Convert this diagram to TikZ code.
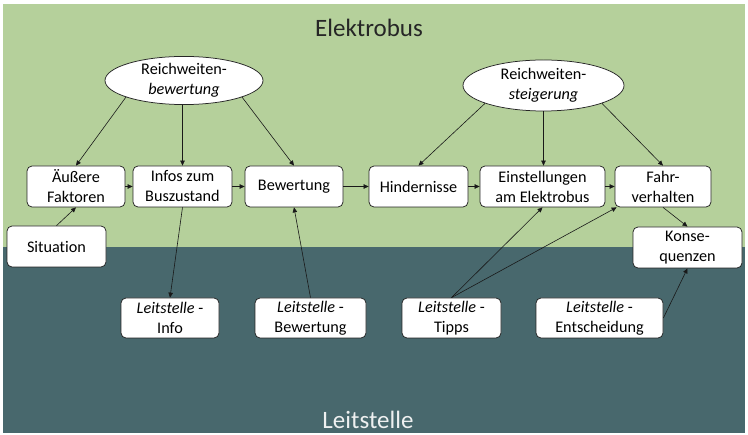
\documentclass[tikz,border=0pt]{standalone}
\usepackage{fontspec}
\setmainfont[Ligatures=NoCommon]{Carlito}
\usetikzlibrary{shapes.geometric,arrows.meta}
\definecolor{bgG}{RGB}{181,208,155}
\definecolor{bgD}{RGB}{72,104,109}
\definecolor{ltxt}{RGB}{238,240,240}
\begin{document}
\begin{tikzpicture}[x=1pt,y=-1pt,
  box/.style={draw=black!85, fill=white, rounded corners=5pt, line width=0.75pt, align=center, inner sep=0pt, minimum height=41pt, font=\fontsize{16.2}{20}\selectfont},
  ell/.style={draw=black!85, fill=white, ellipse, line width=0.75pt, align=center, inner sep=0pt, font=\fontsize{16.2}{20}\selectfont},
  arr/.style={-{Triangle[length=5pt,width=4.5pt]}, line width=0.6pt, draw=black!90},
  title/.style={font=\fontsize{25}{30}\selectfont, inner sep=0pt}]
\fill[white] (0,0) rectangle (748,435);
\useasboundingbox (0,0) rectangle (748,435);
\fill[bgG] (3,4) rectangle (745,247);
\fill[bgD] (3,247) rectangle (745,433);

\node[title, text=black!85] (tE) at (369,28) {Elektrobus};
\node[title, text=ltxt] (tL) at (368,420) {Leitstelle};

\node[ell, minimum width=158pt, minimum height=45pt] (e1) at (184,80.5) {Reichweiten-\\\itshape bewertung};
\node[ell, minimum width=161pt, minimum height=51pt] (e2) at (543.5,85.5) {Reichweiten-\\\itshape steigerung};

\node[box, minimum width=98pt] (aus) at (76,186.5) {Äußere\\Faktoren};
\node[box, minimum width=99pt] (inf) at (182.5,186.5) {Infos zum\\Buszustand};
\node[box, minimum width=98pt] (bew) at (294,186.5) {Bewertung};
\node[box, minimum width=99pt] (hin) at (418.5,186.5) {Hindernisse};
\node[box, minimum width=125pt] (ein) at (542.5,186.5) {Einstellungen\\am Elektrobus};
\node[box, minimum width=96pt] (fah) at (663,186.5) {Fahr-\\verhalten};

\node[box, minimum width=99pt] (sit) at (56.5,246.5) {Situation};
\node[box, minimum width=109pt] (kon) at (687.5,247.5) {Konse-\\quenzen};

\node[box, minimum width=98pt, minimum height=40pt] (lin) at (170,318) {\itshape Leitstelle\upshape\ -\\Info};
\node[box, minimum width=111pt, minimum height=40pt] (lbw) at (310.5,318) {\itshape Leitstelle\upshape\ -\\Bewertung};
\node[box, minimum width=99pt, minimum height=40pt] (ltp) at (451.5,318) {\itshape Leitstelle\upshape\ -\\Tipps};
\node[box, minimum width=127pt, minimum height=40pt] (len) at (599.5,318) {\itshape Leitstelle\upshape\ -\\Entscheidung};

\draw[arr] (e1.196) -- (aus.north);
\draw[arr] (inf.north |- e1.south) -- (inf.north);
\draw[arr] (e1.344) -- (bew.north);
\draw[arr] (e2.197) -- (hin.north);
\draw[arr] (e2.south) -- (e2.south |- ein.north);
\draw[arr] (e2.343) -- (fah.north);

\draw[arr] (aus.east) -- (inf.west);
\draw[arr] (inf.east) -- (bew.west);
\draw[arr] (bew.east) -- (hin.west);
\draw[arr] (hin.east) -- (ein.west);
\draw[arr] (ein.east) -- (fah.west);

\draw[arr] (sit.north) -- (aus.south);
\draw[arr] (inf.south) -- (lin.north);
\draw[arr] (lbw.north) -- (bew.south);
\draw[arr] (ltp.north) -- (ein.south);
\draw[arr] (ltp.north) -- ([xshift=2pt]fah.south west);
\draw[arr] (fah.south) -- (kon.north);
\draw[arr] (len.east) -- (kon.south);
\end{tikzpicture}
\end{document}
